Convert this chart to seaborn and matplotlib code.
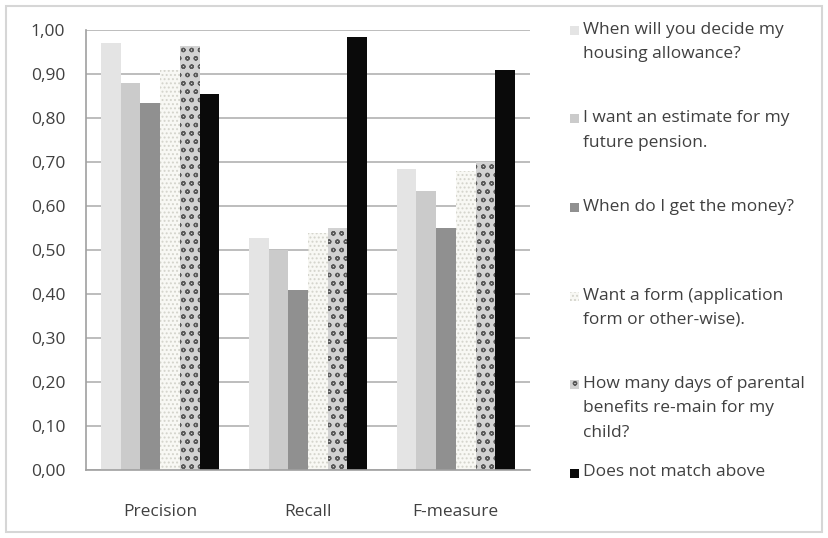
import matplotlib
matplotlib.use("Agg")
import matplotlib.pyplot as plt
import matplotlib.patches as mpatches
import seaborn as sns
import pandas as pd
import numpy as np

# data
measures = ["Precision", "Recall", "F-measure"]
series = [
    "When will you decide my\nhousing allowance?",
    "I want an estimate for my\nfuture pension.",
    "When do I get the money?",
    "Want a form (application\nform or other-wise).",
    "How many days of parental\nbenefits re-main for my\nchild?",
    "Does not match above",
]
housing = [0.97, 0.527, 0.685]
pension = [0.88, 0.50, 0.635]
money = [0.835, 0.41, 0.55]
form = [0.91, 0.54, 0.68]
parental = [0.965, 0.55, 0.70]
nomatch = [0.855, 0.985, 0.91]

colors = ["#e4e4e4", "#cbcbcb", "#909090", "#f8f8f4", "#d2d2d2", "#0a0a0a"]
hatch_cols = [None, None, None, "#d4d4cc", "#5a5a5a", None]
hatches = [None, None, None, "....", "oo", None]

rows = []
for name, vals in zip(series, [housing, pension, money, form, parental, nomatch]):
    for m, v in zip(measures, vals):
        rows.append({"measure": m, "series": name, "value": v})
df = pd.DataFrame(rows)

sns.set_style("white")
plt.rcParams["font.family"] = ["Open Sans", "DejaVu Sans"]
plt.rcParams["hatch.linewidth"] = 0.9

fig = plt.figure(figsize=(8.29, 5.38), dpi=100)
ax = fig.add_axes([0.104, 0.126, 0.535, 0.818])

sns.barplot(data=df, x="measure", y="value", hue="series", hue_order=series,
            palette=colors, width=0.8, ax=ax, legend=False, saturation=1)

for i, cont in enumerate(ax.containers):
    for bar in cont:
        bar.set_linewidth(0)
        if hatches[i]:
            bar.set_hatch(hatches[i])
            bar.set_edgecolor(hatch_cols[i])

txt = "#404040"
fs = 12.5
ax.set_ylim(0, 1.0)
ax.set_xlim(-0.5, 2.5)
yt = np.arange(0, 1.01, 0.1)
ax.set_yticks(yt)
ax.set_yticklabels([f"{v:.2f}".replace(".", ",") for v in yt], color=txt, fontsize=fs)
ax.set_xticks([0, 1, 2])
ax.set_xticklabels(measures, color=txt, fontsize=fs)
ax.tick_params(axis="x", length=0, pad=24)
ax.tick_params(axis="y", length=7, color="#a0a0a0", direction="out", pad=8)
ax.set_xticks([-0.5, 0.5, 1.5, 2.5], minor=True)
ax.tick_params(axis="x", which="minor", length=6, color="#a0a0a0", direction="out")
ax.set_xlabel("")
ax.set_ylabel("")
ax.yaxis.grid(True, color="#bdbdbd", linewidth=1.4)
ax.set_axisbelow(True)
for s in ["top", "right"]:
    ax.spines[s].set_visible(False)
for s in ["left", "bottom"]:
    ax.spines[s].set_color("#a0a0a0")
    ax.spines[s].set_linewidth(1.2)

# legend drawn by hand, Excel style
y0 = 1 - 30 / 538
step = 88.5 / 538
for i, name in enumerate(series):
    yy = y0 - i * step
    sq = mpatches.Rectangle((570 / 829, yy - 5 / 538), 9 / 829, 9 / 538,
                            transform=fig.transFigure, facecolor=colors[i],
                            edgecolor=hatch_cols[i] if hatches[i] else colors[i],
                            hatch=hatches[i], linewidth=0)
    fig.patches.append(sq)
    fig.text(583 / 829, yy + 8 / 538, name, ha="left", va="top", fontsize=fs,
             color=txt, linespacing=1.7, transform=fig.transFigure)

border = mpatches.Rectangle((6 / 829, 6 / 538), 816 / 829, 526 / 538,
                            transform=fig.transFigure, fill=False,
                            edgecolor="#d6d6d6", linewidth=1.5)
fig.patches.append(border)

fig.savefig("out.png", dpi=100)
